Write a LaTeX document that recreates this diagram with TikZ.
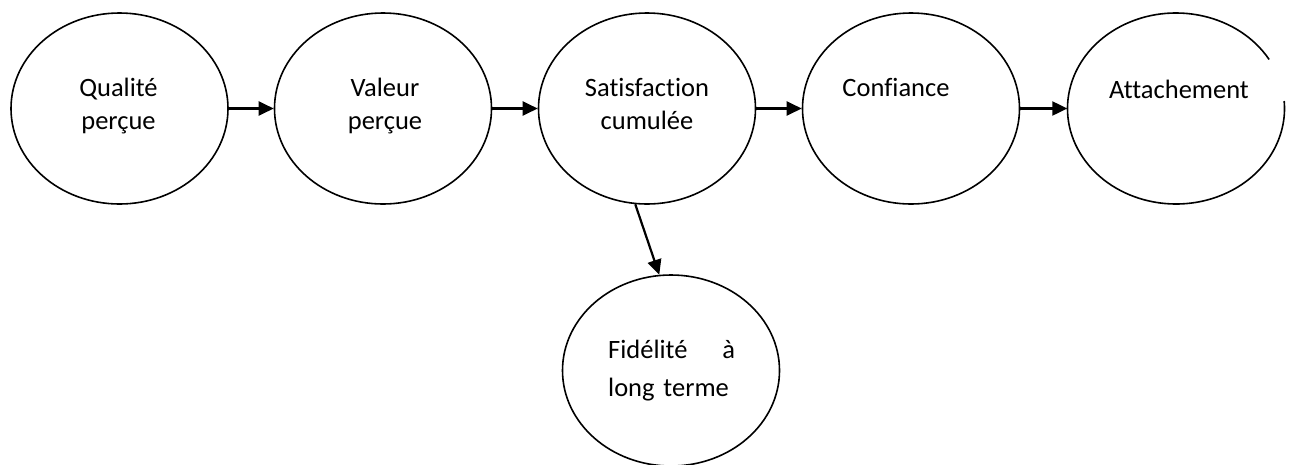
\documentclass[tikz,border=0pt]{standalone}
\usepackage{fontspec}
\setmainfont{Carlito}[Ligatures={NoCommon,NoRequired}]
\usetikzlibrary{arrows.meta,shapes.geometric,calc}
\begin{document}
\begin{tikzpicture}[x=1pt,y=-1pt,
  bubble/.style={ellipse, draw=black, line width=1.6pt, minimum width=217pt, minimum height=191pt, inner sep=0pt},
  hiddenbubble/.style={ellipse, minimum width=217pt, minimum height=191pt, inner sep=0pt},
  lbl/.style={font=\fontsize{26.5pt}{33pt}\selectfont, text width=180pt, align=center, anchor=base, inner sep=0pt},
  link/.style={line width=2.2pt, -{Triangle[length=15pt,width=14pt]}}]
\useasboundingbox (0,0) rectangle (1289,464);
\node[bubble] (e1) at (119.5,108.5) {};
\node[bubble] (e2) at (383,108.5) {};
\node[bubble] (e3) at (647,108.5) {};
\node[bubble] (e4) at (911,108.5) {};
\node[hiddenbubble] (e5) at (1176,108.5) {};
\node[bubble] (e6) at (671,370.5) {};
\draw[line width=1.6pt] ([shift={(30.9:108.5pt and 95.5pt)}]e5.center) arc[start angle=30.9, end angle=364.5, x radius=108.5pt, y radius=95.5pt];
\draw[link] (e1) -- (e2);
\draw[link] (e2) -- (e3);
\draw[link] (e3) -- (e4);
\draw[link] (e4) -- (e5);
\draw[link] (e3.-97) -- (e6.97);
\node[lbl] (t1) at (118.5,96) {Qualité\\perçue};
\node[lbl] (t2) at (385,96) {Valeur\\perçue};
\node[lbl] (t3) at (647,96) {Satisfaction\\cumulée};
\node[lbl] (t4) at (896,96) {Confiance};
\node[lbl] (t5) at (1179,98) {Attachement};
\node[lbl, font=\fontsize{26.5pt}{38pt}\selectfont, text width=127pt, align=left, anchor=base west] (t6) at (608,358) {Fidélité\hfill à\\\mbox{long terme}};
\end{tikzpicture}
\end{document}
